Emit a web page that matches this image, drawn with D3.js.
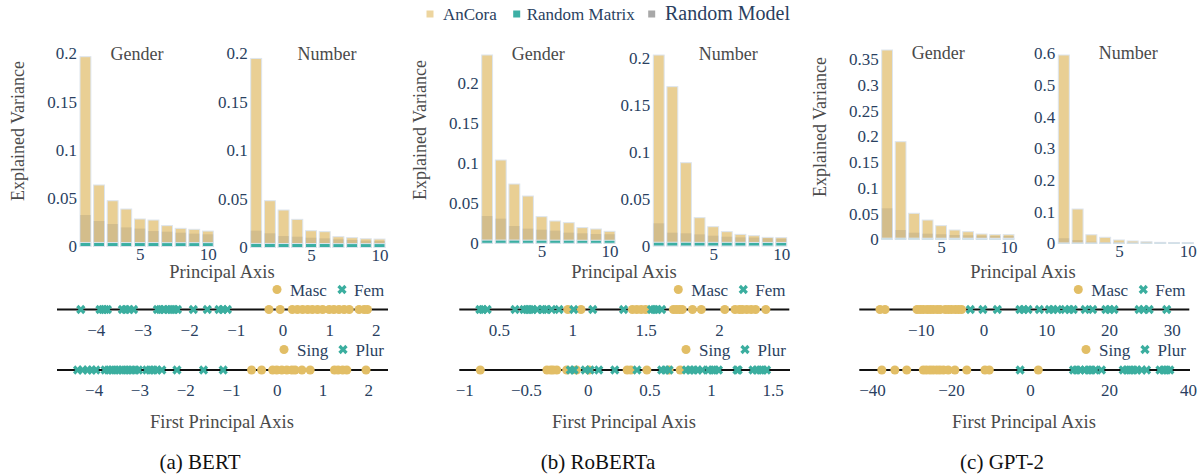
<!DOCTYPE html>
<html><head><meta charset="utf-8">
<script src="https://cdn.jsdelivr.net/npm/d3@7"></script>
<style>body{margin:0;background:#fff}svg{display:block}</style>
</head><body>
<svg id="c" width="1203" height="474"></svg>
<script>
// ---------------- DATA ----------------
const principalAxes = [1,2,3,4,5,6,7,8,9,10];
const seriesNames = ["AnCora","Random Matrix","Random Model"];
const panelTitles = ["Gender","Number"];
const modelCaptions = ["(a) BERT","(b) RoBERTa","(c) GPT-2"];

const bertGenderAnCora    = [0.1965,0.0637,0.0474,0.0388,0.0285,0.0274,0.0216,0.0188,0.0178,0.0160];
const bertGenderRandModel = [0.0326,0.0264,0.0233,0.0198,0.0185,0.0160,0.0153,0.0143,0.0133,0.0126];
const bertGenderRandMatrix= [0.0042,0.0042,0.0041,0.0041,0.0041,0.0041,0.0040,0.0040,0.0040,0.0040];
const bertNumberAnCora    = [0.1947,0.0482,0.0386,0.0290,0.0173,0.0163,0.0111,0.0101,0.0090,0.0087];
const bertNumberRandModel = [0.0173,0.0146,0.0118,0.0111,0.0101,0.0094,0.0084,0.0077,0.0070,0.0067];
const bertNumberRandMatrix= [0.0042,0.0042,0.0041,0.0041,0.0041,0.0041,0.0040,0.0040,0.0040,0.0040];

const robertaGenderAnCora    = [0.2354,0.1041,0.0741,0.0591,0.0333,0.0279,0.0258,0.0196,0.0179,0.0150];
const robertaGenderRandModel = [0.0341,0.0308,0.0216,0.0183,0.0170,0.0158,0.0133,0.0125,0.0116,0.0113];
const robertaGenderRandMatrix= [0.0040,0.0040,0.0040,0.0039,0.0039,0.0039,0.0039,0.0038,0.0038,0.0038];
const robertaNumberAnCora    = [0.2036,0.1699,0.0888,0.0302,0.0206,0.0153,0.0124,0.0110,0.0092,0.0089];
const robertaNumberRandModel = [0.0242,0.0142,0.0135,0.0124,0.0110,0.0099,0.0092,0.0089,0.0082,0.0078];
const robertaNumberRandMatrix= [0.0040,0.0040,0.0040,0.0039,0.0039,0.0039,0.0039,0.0038,0.0038,0.0038];

const gpt2GenderAnCora    = [0.3683,0.1899,0.0506,0.0375,0.0265,0.0181,0.0148,0.0103,0.0090,0.0090];
const gpt2GenderRandModel = [0.0603,0.0181,0.0128,0.0109,0.0097,0.0084,0.0078,0.0071,0.0064,0.0064];
const gpt2GenderRandMatrix= [0.0022,0.0022,0.0022,0.0021,0.0021,0.0021,0.0021,0.0020,0.0020,0.0020];
const gpt2NumberAnCora    = [0.5946,0.1083,0.0270,0.0190,0.0105,0.0073,0.0051,0.0030,0.0025,0.0025];
const gpt2NumberRandModel = [0.0160,0.0100,0.0050,0.0040,0.0035,0.0030,0.0028,0.0025,0.0022,0.0020];
const gpt2NumberRandMatrix= [0.0010,0.0010,0.0010,0.0010,0.0010,0.0010,0.0010,0.0010,0.0010,0.0010];

const barXTicks = [5,10];
const bertYTicks = [0,0.05,0.1,0.15,0.2];
const robertaYTicks = [0,0.05,0.1,0.15,0.2];
const gpt2GenderYTicks = [0,0.05,0.1,0.15,0.2,0.25,0.3,0.35];
const gpt2NumberYTicks = [0,0.1,0.2,0.3,0.4,0.5,0.6];

const genderClasses = ["Masc","Fem"];
const numberClasses = ["Sing","Plur"];

const bertMasc = [-0.29,-0.05,0.21,0.32,0.43,0.54,0.64,0.75,0.86,1.00,1.10,1.21,1.32,1.43,1.64,1.75,1.82];
const bertFem  = [-4.32,-3.91,-3.85,-3.80,-3.75,-3.43,-3.36,-3.28,-3.19,-2.68,-2.62,-2.54,-2.46,-2.39,-2.32,-2.25,-1.91,-1.61,-1.36,-1.28,-1.18];
const bertSing = [-0.55,-0.33,-0.09,0.00,0.11,0.22,0.33,0.40,0.55,0.73,1.26,1.34,1.44,1.53,1.95];
const bertPlur = [-4.35,-4.24,-4.13,-4.04,-3.95,-3.75,-3.68,-3.60,-3.53,-3.46,-3.38,-3.31,-3.24,-3.17,-3.09,-3.02,-2.84,-2.77,-2.69,-2.62,-2.51,-2.18,-1.60,-1.17];

const robertaMasc = [0.97,1.06,1.41,1.44,1.47,1.50,1.69,1.71,1.73,1.75,1.82,1.88,2.04,2.11,2.14,2.16,2.19,2.22,2.25,2.32];
const robertaFem  = [0.37,0.39,0.42,0.61,0.67,0.69,0.71,0.73,0.76,0.80,0.82,0.86,0.91,1.01,1.14,1.35,1.54,1.56,1.58,1.61];
const robertaSing = [-0.87,-0.33,-0.30,-0.28,-0.25,-0.17,-0.09,0.01,0.32,0.35,0.48,0.66,0.75];
const robertaPlur = [-0.14,-0.11,-0.02,0.02,0.09,0.22,0.40,0.60,0.63,0.66,0.80,0.83,0.86,0.89,0.93,0.98,1.01,1.03,1.06,1.21,1.22,1.34,1.37,1.40,1.42,1.45];

const gpt2Masc = [-16.5,-15.7,-10.6,-10.1,-9.6,-9.0,-8.5,-8.0,-7.4,-6.9,-6.1,-5.6,-5.1,-4.5,-4.0,-3.5];
const gpt2Fem  = [-2.1,-0.1,2.2,5.8,6.4,7.1,8.9,10.5,11.1,11.8,13.0,13.7,14.3,16.2,17.4,19.5,20.1,20.8,24.8,25.5,26.4,29.2];
const gpt2Sing = [-37.5,-34.2,-31.2,-27.0,-26.2,-25.3,-24.5,-23.6,-22.8,-21.9,-20.7,-19.0,-16.0,-11.4,-10.3,2.1];
const gpt2Plur = [-2.5,11.0,11.8,12.7,13.9,14.8,15.6,16.5,18.1,23.6,24.5,25.3,26.2,27.0,28.3,29.5,32.9,33.8,34.6,35.4];

const bertStripTicks1 = [-4,-3,-2,-1,0,1,2];
const bertStripTicks2 = [-4,-3,-2,-1,0,1,2];
const robertaStripTicks1 = [0.5,1,1.5,2];
const robertaStripTicks2 = [-1,-0.5,0,0.5,1,1.5];
const gpt2StripTicks1 = [-10,0,10,20,30];
const gpt2StripTicks2 = [-40,-20,0,20,40];

// ---------------- STYLE / LAYOUT ----------------
const FONT = '"Liberation Serif", "Times New Roman", serif';
const COL = {ancora:"#E9CF94", model:"#555555", matrix:"#3BAFA3", stroke:"#dde5ee",
             tick:"#2a3f5f", title:"#4a4a4a", dot:"#E2BE66", xm:"#3BAE9F"};

const panels = [
  {caption:modelCaptions[0], capX:200, ylabX:18, ylabY:131, paX:222, fpaX:222,
   bars:[
     {title:panelTitles[0], tX:137, tY:60, L:80, R:213.3, y0:246.5, yMax:0.2, yMaxPx:53.3, yt:bertYTicks,
      a:bertGenderAnCora, m:bertGenderRandModel, r:bertGenderRandMatrix},
     {title:panelTitles[1], tX:327, tY:60, L:250.7, R:385, y0:247.5, yMax:0.2, yMaxPx:53.3, yt:bertYTicks,
      a:bertNumberAnCora, m:bertNumberRandModel, r:bertNumberRandMatrix}],
   strips:[
     {x0:57, x1:388, dom:[-4.83,2.26], ticks:bertStripTicks1, c:bertMasc, x:bertFem, cls:genderClasses},
     {x0:57, x1:388, dom:[-4.80,2.43], ticks:bertStripTicks2, c:bertSing, x:bertPlur, cls:numberClasses}]},
  {caption:modelCaptions[1], capX:598, ylabX:420, ylabY:130, paX:624, fpaX:624,
   bars:[
     {title:panelTitles[0], tX:538.3, tY:60, L:481.7, R:615, y0:243.3, yMax:0.2, yMaxPx:83.3, yt:robertaYTicks,
      a:robertaGenderAnCora, m:robertaGenderRandModel, r:robertaGenderRandMatrix},
     {title:panelTitles[1], tX:728.3, tY:60, L:653.3, R:786.7, y0:246, yMax:0.2, yMaxPx:58.4, yt:robertaYTicks,
      a:robertaNumberAnCora, m:robertaNumberRandModel, r:robertaNumberRandMatrix}],
   strips:[
     {x0:459.3, x1:789.3, dom:[0.23,2.48], ticks:robertaStripTicks1, c:robertaMasc, x:robertaFem, cls:genderClasses},
     {x0:459.3, x1:790, dom:[-1.04,1.64], ticks:robertaStripTicks2, c:robertaSing, x:robertaPlur, cls:numberClasses}]},
  {caption:modelCaptions[2], capX:1002, ylabX:820, ylabY:127, paX:1023, fpaX:1024,
   bars:[
     {title:panelTitles[0], tX:938.3, tY:58.7, L:881.7, R:1014, y0:239.3, yMax:0.35, yMaxPx:59.4, yt:gpt2GenderYTicks,
      a:gpt2GenderAnCora, m:gpt2GenderRandModel, r:gpt2GenderRandMatrix},
     {title:panelTitles[1], tX:1128.3, tY:58.7, L:1058.3, R:1193.3, y0:243.3, yMax:0.6, yMaxPx:53.3, yt:gpt2NumberYTicks,
      a:gpt2NumberAnCora, m:gpt2NumberRandModel, r:gpt2NumberRandMatrix}],
   strips:[
     {x0:859.3, x1:1189.3, dom:[-19.8,32.8], ticks:gpt2StripTicks1, c:gpt2Masc, x:gpt2Fem, cls:genderClasses},
     {x0:859.3, x1:1190, dom:[-43.2,40.5], ticks:gpt2StripTicks2, c:gpt2Sing, x:gpt2Plur, cls:numberClasses}]}
];

const svg = d3.select("#c");
const fmt = d3.format("~g");
const xSym = d3.symbol().type(d3.symbolCross).size(54);
const cSym = d3.symbol().type(d3.symbolCircle).size(64);

function text(g, x, y, s, size, color, anchor) {
  return g.append("text").attr("x", x).attr("y", y).text(s)
    .style("font-family", FONT).style("font-size", size + "px").attr("fill", color)
    .attr("text-anchor", anchor || "middle");
}
function styleTicks(sel, size) {
  sel.selectAll("text").style("font-family", FONT).style("font-size", size + "px").attr("fill", COL.tick);
}

function drawBars(b) {
  const g = svg.append("g");
  const x = d3.scaleLinear().domain([0.6, 10.4]).range([b.L, b.R]);
  const y = d3.scaleLinear().domain([0, b.yMax]).range([b.y0, b.yMaxPx]);
  const bw = x(1.4) - x(0.6);
  const layers = [
    {v:b.a, fill:COL.ancora, op:1, stroke:COL.stroke},
    {v:b.m, fill:COL.model, op:0.15, stroke:"none"},
    {v:b.r, fill:COL.matrix, op:1, stroke:COL.stroke}];
  layers.forEach(l => {
    g.append("g").selectAll("rect").data(principalAxes).join("rect")
      .attr("x", d => x(d) - bw/2).attr("width", bw)
      .attr("y", (d,i) => y(l.v[i])).attr("height", (d,i) => y(0) - y(l.v[i]))
      .attr("fill", l.fill).attr("fill-opacity", l.op)
      .attr("stroke", l.stroke).attr("stroke-width", 1);
  });
  const ya = g.append("g").attr("transform", `translate(${b.L - 3},0)`)
    .call(d3.axisLeft(y).tickValues(b.yt).tickFormat(fmt).tickSize(0).tickPadding(0));
  ya.select(".domain").remove();
  styleTicks(ya, 17);
  const xa = g.append("g").attr("transform", `translate(0,${b.y0 + 1.5})`)
    .call(d3.axisBottom(x).tickValues(barXTicks).tickFormat(fmt).tickSize(0).tickPadding(0));
  xa.select(".domain").remove();
  styleTicks(xa, 17);
  text(g, b.tX, b.tY, b.title, 18, COL.title);
}

function drawStrip(s, lineY, tickY, legY) {
  const g = svg.append("g");
  const x = d3.scaleLinear().domain(s.dom).range([s.x0, s.x1]);
  g.append("line").attr("x1", s.x0).attr("x2", s.x1).attr("y1", lineY).attr("y2", lineY)
    .attr("stroke", "#111").attr("stroke-width", 2);
  g.append("g").selectAll("path").data(s.c).join("path")
    .attr("d", cSym).attr("transform", d => `translate(${x(d)},${lineY})`).attr("fill", COL.dot);
  g.append("g").selectAll("path").data(s.x).join("path")
    .attr("d", xSym).attr("transform", d => `translate(${x(d)},${lineY}) rotate(45)`).attr("fill", COL.xm);
  const xa = g.append("g").attr("transform", `translate(0,${tickY})`)
    .call(d3.axisBottom(x).tickValues(s.ticks).tickFormat(fmt).tickSize(0).tickPadding(0));
  xa.select(".domain").remove();
  styleTicks(xa, 17);
  xa.selectAll("text").attr("dy", "0.35em");
  const e = s.x1;
  const isG = s.cls[0] === "Masc";
  const o = isG ? {c:111, ct:98, x:46, xt:34} : {c:104, ct:91, x:45, xt:32.5};
  g.append("path").attr("d", cSym).attr("transform", `translate(${e - o.c},${legY})`).attr("fill", COL.dot);
  text(g, e - o.ct, legY + 6, s.cls[0], 17, COL.tick, "start");
  g.append("path").attr("d", xSym).attr("transform", `translate(${e - o.x},${legY}) rotate(45)`).attr("fill", COL.xm);
  text(g, e - o.xt, legY + 6, s.cls[1], 17, COL.tick, "start");
}

panels.forEach(p => {
  p.bars.forEach(drawBars);
  text(svg, p.ylabX, p.ylabY, "Explained Variance", 18, COL.title)
    .attr("transform", `rotate(-90,${p.ylabX},${p.ylabY})`).attr("dy", "0.35em");
  text(svg, p.paX, 277.5, "Principal Axis", 18.5, COL.title);
  drawStrip(p.strips[0], 309.5, 330, 289.5);
  drawStrip(p.strips[1], 370, 390.5, 349.5);
  text(svg, p.fpaX, 427.5, "First Principal Axis", 18.5, COL.title);
  text(svg, p.capX, 469, p.caption, 21, "#111");
});

const leg = svg.append("g");
const legItems = [
  {name:seriesNames[0], sx:430, tx:443, fill:"#EDD59F", size:17},
  {name:seriesNames[1], sx:516.7, tx:526.7, fill:"#3DAFA5", size:17},
  {name:seriesNames[2], sx:651.7, tx:665, fill:"#A8A8A8", size:20}];
legItems.forEach(it => {
  leg.append("rect").attr("x", it.sx - 3.5).attr("y", 10.5).attr("width", 7).attr("height", 7).attr("fill", it.fill);
  text(leg, it.tx, 20, it.name, it.size, COL.tick, "start");
});
</script>
</body></html>
